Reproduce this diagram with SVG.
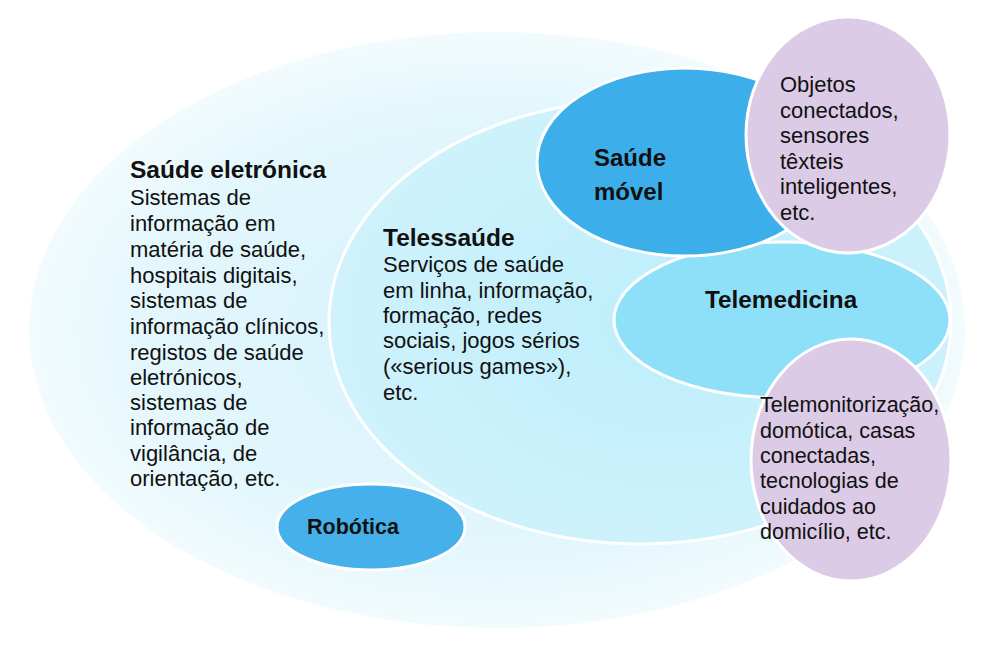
<svg xmlns="http://www.w3.org/2000/svg" width="992" height="655" viewBox="0 0 992 655">
<defs>
<radialGradient id="gOuter" cx="0.5" cy="0.5" r="0.5">
<stop offset="0" stop-color="#d4f2fb"/>
<stop offset="0.75" stop-color="#e3f7fc"/>
<stop offset="1" stop-color="#f2fbfe"/>
</radialGradient>
<radialGradient id="gTele" cx="0.55" cy="0.5" r="0.55">
<stop offset="0" stop-color="#bdeefb"/>
<stop offset="1" stop-color="#cff2fc"/>
</radialGradient>
</defs>
<style>
.t{font-family:"Liberation Sans",Arial,sans-serif;fill:#111;font-size:22px}
.s{font-size:21.5px}
.b{font-family:"Liberation Sans",Arial,sans-serif;fill:#111;font-weight:bold}
.w{stroke:#ffffff;stroke-width:3}
</style>
<rect width="992" height="655" fill="#ffffff"/>
<g id="saude-eletronica">
<ellipse cx="497" cy="330" rx="468" ry="298" fill="url(#gOuter)"/>
</g>
<g id="telessaude">
<ellipse cx="640" cy="322" rx="311" ry="222" fill="url(#gTele)" class="w"/>
</g>
<g id="robotica">
<ellipse cx="371" cy="527" rx="94" ry="43" fill="#45b0ea" class="w"/>
<text class="b" x="307" y="534" font-size="21.5">Robótica</text>
</g>
<g id="telemedicina">
<ellipse cx="782" cy="320" rx="168" ry="78" fill="#8ee0f8" class="w"/>
<text class="b" x="705" y="308" font-size="24.3">Telemedicina</text>
</g>
<g id="saude-movel">
<ellipse cx="685" cy="162" rx="148" ry="94" fill="#3caeea" class="w"/>
<text class="b" x="594" y="166" font-size="24">Saúde</text>
<text class="b" x="594" y="200" font-size="24">móvel</text>
</g>
<g id="objetos">
<ellipse cx="848" cy="135" rx="102" ry="118" fill="#dccbe6" class="w"/>
<text class="t" x="780" y="92">Objetos</text>
<text class="t" x="780" y="118">conectados,</text>
<text class="t" x="780" y="143">sensores</text>
<text class="t" x="780" y="169">têxteis</text>
<text class="t" x="780" y="194">inteligentes,</text>
<text class="t" x="780" y="220">etc.</text>
</g>
<g id="telemonitorizacao">
<ellipse cx="851" cy="460" rx="100" ry="121" fill="#dccbe6" class="w"/>
<text class="t s" x="760" y="412">Telemonitorização,</text>
<text class="t s" x="760" y="438">domótica, casas</text>
<text class="t s" x="760" y="463">conectadas,</text>
<text class="t s" x="760" y="488">tecnologias de</text>
<text class="t s" x="760" y="514">cuidados ao</text>
<text class="t s" x="760" y="539">domicílio, etc.</text>
</g>
<g id="texto-saude-eletronica">
<text class="b" x="130" y="178" font-size="24.5">Saúde eletrónica</text>
<text class="t" x="130" y="205">Sistemas de</text>
<text class="t" x="130" y="231">informação em</text>
<text class="t" x="130" y="257">matéria de saúde,</text>
<text class="t" x="130" y="283">hospitais digitais,</text>
<text class="t" x="130" y="308">sistemas de</text>
<text class="t" x="130" y="334">informação clínicos,</text>
<text class="t" x="130" y="360">registos de saúde</text>
<text class="t" x="130" y="385">eletrónicos,</text>
<text class="t" x="130" y="410">sistemas de</text>
<text class="t" x="130" y="435">informação de</text>
<text class="t" x="130" y="461">vigilância, de</text>
<text class="t" x="130" y="486">orientação, etc.</text>
</g>
<g id="texto-telessaude">
<text class="b" x="383" y="246" font-size="24.5">Telessaúde</text>
<text class="t" x="383" y="272">Serviços de saúde</text>
<text class="t" x="383" y="298">em linha, informação,</text>
<text class="t" x="383" y="323">formação, redes</text>
<text class="t" x="383" y="348">sociais, jogos sérios</text>
<text class="t" x="383" y="374">(«serious games»),</text>
<text class="t" x="383" y="400">etc.</text>
</g>
<g id="connectors"/>
</svg>
